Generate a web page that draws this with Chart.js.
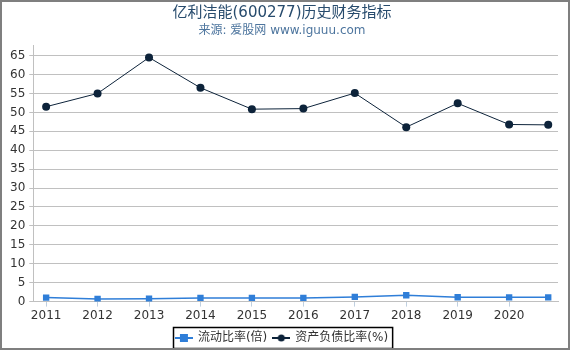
<!DOCTYPE html>
<html>
<head>
<meta charset="utf-8">
<script src="https://cdn.jsdelivr.net/npm/chart.js@4/dist/chart.umd.min.js"></script>
<style>
  html, body { margin: 0; padding: 0; background: #fff; }
  #wrap { position: relative; width: 570px; height: 350px; background: #fff; }
  #marco { position: absolute; left: 0; top: 0; width: 570px; height: 350px; box-sizing: border-box; border: 2px solid #7f7f7f; pointer-events: none; }
  canvas { display: block; }
</style>
</head>
<body>
<div id="wrap"><canvas id="miGrafico" width="570" height="350"></canvas><div id="marco"></div></div>
<script>
// datos
const years = [2011, 2012, 2013, 2014, 2015, 2016, 2017, 2018, 2019, 2020, 2020.76];
const tickYears = [2011, 2012, 2013, 2014, 2015, 2016, 2017, 2018, 2019, 2020];
const liquidez = [1.06, 0.72, 0.74, 0.98, 0.98, 0.98, 1.24, 1.68, 1.15, 1.13, 1.13];
const deuda = [51.5, 55.0, 64.5, 56.5, 50.85, 51.0, 55.1, 46.1, 52.4, 46.8, 46.7];

const fontFam = '"DejaVu Sans", "Noto Sans CJK SC", sans-serif';

// icono de leyenda: linea + marcador
function legendIcon(color, shape) {
  const c = document.createElement('canvas');
  c.width = 18; c.height = 10;
  const g = c.getContext('2d');
  g.strokeStyle = color;
  g.lineWidth = 2;
  g.beginPath(); g.moveTo(0, 5); g.lineTo(18, 5); g.stroke();
  g.fillStyle = color;
  if (shape === 'rect') {
    g.fillRect(5, 1, 8, 8);
  } else {
    g.beginPath(); g.arc(9, 5, 3.5, 0, Math.PI * 2); g.fill();
  }
  return c;
}

const iconBlue = legendIcon('#2f7ed8', 'rect');
const iconDark = legendIcon('#0d233a', 'circle');

// marco negro alrededor de la leyenda
const legendBorder = {
  id: 'legendBorder',
  afterDraw(chart) {
    const boxes = chart.legend.legendHitBoxes;
    if (!boxes || !boxes.length) return;
    let l = Infinity, r = -Infinity, t = Infinity, b = -Infinity;
    boxes.forEach(h => {
      l = Math.min(l, h.left); r = Math.max(r, h.left + h.width);
      t = Math.min(t, h.top); b = Math.max(b, h.top + h.height);
    });
    const ctx = chart.ctx;
    ctx.save();
    ctx.strokeStyle = '#000';
    ctx.lineWidth = 1.5;
    ctx.strokeRect(Math.round(l) - 2.5, Math.round(t) - 4.5, (r - l) + 7, (b - t) + 9);
    ctx.restore();
  }
};

const ctx = document.getElementById('miGrafico').getContext('2d');
const myChart = new Chart(ctx, {
  type: 'line',
  data: {
    datasets: [
      {
        label: '流动比率(倍)',
        data: years.map((y, i) => ({ x: y, y: liquidez[i] })),
        borderColor: '#2f7ed8',
        backgroundColor: '#2f7ed8',
        borderWidth: 1.5,
        pointStyle: 'rect',
        pointRadius: 4.5,
        pointBorderWidth: 0,
        fill: false,
      },
      {
        label: '资产负债比率(%)',
        data: years.map((y, i) => ({ x: y, y: deuda[i] })),
        borderColor: '#0d233a',
        backgroundColor: '#0d233a',
        borderWidth: 1,
        pointStyle: 'circle',
        pointRadius: 4,
        pointBorderWidth: 0,
        fill: false,
      },
    ],
  },
  options: {
    responsive: false,
    animation: false,
    layout: { padding: { left: 6, right: 12, top: 0, bottom: -4 } },
    plugins: {
      title: {
        display: true,
        text: '亿利洁能(600277)历史财务指标',
        color: '#274b6d',
        font: { family: fontFam, size: 15, weight: 'normal' },
        padding: { top: 4, bottom: 2 },
      },
      subtitle: {
        display: true,
        text: '来源: 爱股网 www.iguuu.com',
        color: '#4d759e',
        font: { family: fontFam, size: 12, weight: 'normal' },
        padding: { top: 0, bottom: 7 },
      },
      legend: {
        position: 'bottom',
        labels: {
          color: '#333',
          font: { family: fontFam, size: 12 },
          usePointStyle: true,
          pointStyleWidth: 16,
          boxHeight: 10,
          padding: 6,
          generateLabels(chart) {
            return chart.data.datasets.map((ds, i) => ({
              text: ds.label,
              pointStyle: i === 0 ? iconBlue : iconDark,
              fillStyle: ds.borderColor,
              strokeStyle: ds.borderColor,
              lineWidth: 0,
              fontColor: '#333',
              datasetIndex: i,
              hidden: false,
            }));
          },
        },
      },
      tooltip: { enabled: false },
    },
    scales: {
      x: {
        type: 'linear',
        min: 2010.75,
        max: 2020.95,
        afterBuildTicks(axis) {
          axis.ticks = tickYears.map(v => ({ value: v }));
        },
        ticks: {
          color: '#333',
          font: { family: fontFam, size: 12 },
          maxRotation: 0,
          autoSkip: false,
          padding: 2.5,
          callback: v => String(v),
        },
        grid: { display: true, drawOnChartArea: false, color: '#c0d0e0', tickLength: 5 },
        border: { display: true, color: '#c0c0c0' },
      },
      y: {
        min: 0,
        max: 67.7,
        afterBuildTicks(axis) {
          const t = [];
          for (let v = 0; v <= 65; v += 5) t.push({ value: v });
          axis.ticks = t;
        },
        ticks: {
          color: '#333',
          font: { family: fontFam, size: 12 },
          padding: 4,
        },
        grid: { color: '#c0c0c0', tickLength: 4 },
        border: { display: true, color: '#c0c0c0' },
      },
    },
  },
  plugins: [legendBorder],
});
</script>
</body>
</html>
